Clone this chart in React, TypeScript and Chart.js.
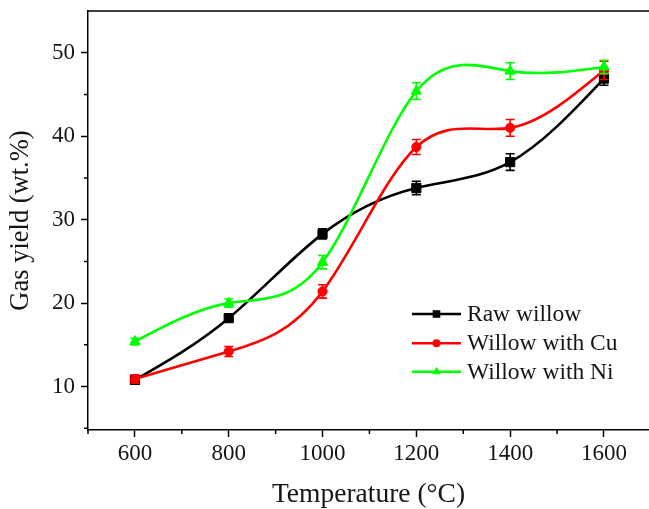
import React, { useEffect, useRef } from 'react';
import { Chart, registerables } from 'chart.js';

Chart.register(...registerables);

const temperatures = [600, 800, 1000, 1200, 1400, 1600];
const rawWillow = [10.8, 18.2, 28.3, 33.8, 36.9, 46.9];
const rawWillowErr = [0.5, 0.4, 0.6, 0.8, 1.0, 0.8];
const willowCu = [10.9, 14.2, 21.4, 38.7, 41.0, 47.9];
const willowCuErr = [0.5, 0.6, 0.8, 0.9, 1.0, 1.1];
const willowNi = [15.4, 20.0, 24.9, 45.4, 47.8, 48.3];
const willowNiErr = [0.4, 0.5, 0.8, 1.0, 1.0, 0.8];

const seriesLabels = ['Raw willow', 'Willow with Cu', 'Willow with Ni'];
const xMajorTicks = [600, 800, 1000, 1200, 1400, 1600];
const xMinorTicks = [500, 700, 900, 1100, 1300, 1500];
const yMajorTicks = [10, 20, 30, 40, 50];
const yMinorTicks = [5, 15, 25, 35, 45];

const FONT = "'Liberation Serif', 'Times New Roman', serif";
const TEXT = '#151515';

// Natural cubic spline (like Origin "Spline" connection) applied to the library's own point elements
const naturalSplinePlugin = {
  id: 'naturalSpline',
  beforeDatasetDraw(chart: any, args: any) {
    const meta = args.meta;
    const line = meta.dataset;
    if (!line) return;
    line.updateControlPoints(chart.chartArea, meta.iScale.axis);
    const pts = meta.data;
    const n = pts.length;
    if (n < 3) return;
    const xs = pts.map((p: any) => p.x);
    const ys = pts.map((p: any) => p.y);
    const h: number[] = [];
    for (let i = 0; i < n - 1; i++) h.push(xs[i + 1] - xs[i]);
    const M = new Array(n).fill(0);
    const a = new Array(n).fill(0), b = new Array(n).fill(0), c = new Array(n).fill(0), d = new Array(n).fill(0);
    for (let i = 1; i < n - 1; i++) {
      a[i] = h[i - 1];
      b[i] = 2 * (h[i - 1] + h[i]);
      c[i] = h[i];
      d[i] = 6 * ((ys[i + 1] - ys[i]) / h[i] - (ys[i] - ys[i - 1]) / h[i - 1]);
    }
    const cp = new Array(n).fill(0), dp = new Array(n).fill(0);
    for (let i = 1; i < n - 1; i++) {
      const m = b[i] - a[i] * (i > 1 ? cp[i - 1] : 0);
      cp[i] = c[i] / m;
      dp[i] = (d[i] - a[i] * (i > 1 ? dp[i - 1] : 0)) / m;
    }
    for (let i = n - 2; i >= 1; i--) {
      M[i] = dp[i] - cp[i] * (i < n - 2 ? M[i + 1] : 0);
    }
    const s: number[] = [];
    for (let i = 0; i < n; i++) {
      if (i < n - 1) s.push((ys[i + 1] - ys[i]) / h[i] - (h[i] * (2 * M[i] + M[i + 1])) / 6);
      else s.push((ys[i] - ys[i - 1]) / h[i - 1] + (h[i - 1] * (M[i - 1] + 2 * M[i])) / 6);
    }
    for (let i = 0; i < n; i++) {
      const p = pts[i];
      if (i > 0) {
        p.cp1x = xs[i] - h[i - 1] / 3;
        p.cp1y = ys[i] - (s[i] * h[i - 1]) / 3;
      } else {
        p.cp1x = xs[i];
        p.cp1y = ys[i];
      }
      if (i < n - 1) {
        p.cp2x = xs[i] + h[i] / 3;
        p.cp2y = ys[i] + (s[i] * h[i]) / 3;
      } else {
        p.cp2x = xs[i];
        p.cp2y = ys[i];
      }
    }
  },
};

const errorBarPlugin = {
  id: 'errorBars',
  afterDatasetDraw(chart: any, args: any) {
    const ds = chart.data.datasets[args.index];
    const errs: number[] = ds.errors;
    if (!errs) return;
    const y = chart.scales.y;
    const ctx = chart.ctx;
    ctx.save();
    ctx.strokeStyle = ds.borderColor;
    ctx.lineWidth = 1.6;
    args.meta.data.forEach((p: any, i: number) => {
      const v = args.meta._parsed[i].y;
      const e = errs[i];
      const yt = y.getPixelForValue(v + e);
      const yb = y.getPixelForValue(v - e);
      ctx.beginPath();
      ctx.moveTo(p.x, yt);
      ctx.lineTo(p.x, yb);
      ctx.moveTo(p.x - 4.5, yt);
      ctx.lineTo(p.x + 4.5, yt);
      ctx.moveTo(p.x - 4.5, yb);
      ctx.lineTo(p.x + 4.5, yb);
      ctx.stroke();
    });
    ctx.restore();
  },
};

const frameAndLegendPlugin = {
  id: 'frameLegend',
  afterDraw(chart: any) {
    const { ctx, chartArea, scales } = chart;
    const x = scales.x;
    const y = scales.y;
    ctx.save();
    ctx.strokeStyle = '#000';
    ctx.lineWidth = 1.5;
    ctx.beginPath();
    xMinorTicks.forEach((v) => {
      const px = x.getPixelForValue(v);
      ctx.moveTo(px, chartArea.bottom);
      ctx.lineTo(px, chartArea.bottom + 4);
    });
    yMinorTicks.forEach((v) => {
      const py = y.getPixelForValue(v);
      ctx.moveTo(chartArea.left, py);
      ctx.lineTo(chartArea.left - 4, py);
    });
    ctx.moveTo(chartArea.left - 0.75, chartArea.top);
    ctx.lineTo(chart.width, chartArea.top);
    ctx.stroke();

    const rows = [314, 343.3, 371.7];
    chart.data.datasets.forEach((ds: any, i: number) => {
      const ly = rows[i];
      ctx.strokeStyle = ds.borderColor;
      ctx.fillStyle = ds.borderColor;
      ctx.lineWidth = 2.5;
      ctx.beginPath();
      ctx.moveTo(412, ly);
      ctx.lineTo(461, ly);
      ctx.stroke();
      const cx = 436.5;
      ctx.beginPath();
      if (ds.pointStyle === 'rect') {
        ctx.rect(cx - 3.8, ly - 3.8, 7.6, 7.6);
      } else if (ds.pointStyle === 'circle') {
        ctx.arc(cx, ly, 4, 0, Math.PI * 2);
      } else {
        const r = 5;
        ctx.moveTo(cx, ly - r);
        ctx.lineTo(cx + r * 0.866, ly + r * 0.5);
        ctx.lineTo(cx - r * 0.866, ly + r * 0.5);
        ctx.closePath();
      }
      ctx.fill();
      ctx.fillStyle = TEXT;
      ctx.font = `23.5px ${FONT}`;
      ctx.textBaseline = 'middle';
      ctx.textAlign = 'left';
      ctx.fillText(ds.label, 467, ly + 1);
    });
    ctx.restore();
  },
};

const zeroPadding = (s: any) => {
  s.paddingTop = 0;
  s.paddingBottom = 0;
  s.paddingLeft = 0;
  s.paddingRight = 0;
};

export default function App() {
  const ref = useRef<HTMLCanvasElement>(null);
  useEffect(() => {
    if (!ref.current) return;
    const mk = (label: string, data: number[], errors: number[], color: string, style: string, radius: number, order: number) => ({
      label,
      data: data.map((v, i) => ({ x: temperatures[i], y: v })),
      errors,
      borderColor: color,
      backgroundColor: color,
      pointBackgroundColor: color,
      pointBorderColor: color,
      pointStyle: style,
      pointRadius: radius,
      pointBorderWidth: 1,
      borderWidth: 2.6,
      tension: 0.4,
      fill: false,
      order,
    });
    const chart = new Chart(ref.current, {
      type: 'line',
      data: {
        datasets: [
          mk(seriesLabels[0], rawWillow, rawWillowErr, '#000000', 'rect', 6.5, 3),
          mk(seriesLabels[1], willowCu, willowCuErr, '#ff0000', 'circle', 4.6, 2),
          mk(seriesLabels[2], willowNi, willowNiErr, '#00ff00', 'triangle', 6, 1),
        ] as any,
      },
      options: {
        responsive: false,
        animation: false,
        devicePixelRatio: 1,
        layout: { autoPadding: false, padding: { top: 11, right: 0, bottom: 0, left: 0 } },
        plugins: { legend: { display: false }, tooltip: { enabled: false } },
        scales: {
          x: {
            type: 'linear',
            min: 500,
            max: 1696,
            afterBuildTicks: (s: any) => {
              s.ticks = xMajorTicks.map((v) => ({ value: v }));
            },
            afterFit: (s: any) => {
              s.height = 79;
              zeroPadding(s);
            },
            grid: { display: true, drawOnChartArea: false, drawTicks: true, tickLength: 7, tickColor: '#000', tickWidth: 1.5 },
            border: { display: true, color: '#000', width: 1.5 },
            ticks: {
              color: TEXT,
              font: { family: FONT, size: 23 },
              padding: 3,
              maxRotation: 0,
              autoSkip: false,
              callback: (v: any) => String(v),
            },
            title: {
              display: true,
              text: 'Temperature (°C)',
              color: TEXT,
              font: { family: FONT, size: 27.5, lineHeight: 1.0 },
              padding: 0,
            },
          },
          y: {
            type: 'linear',
            min: 4.8,
            max: 55,
            afterBuildTicks: (s: any) => {
              s.ticks = yMajorTicks.map((v) => ({ value: v }));
            },
            afterFit: (s: any) => {
              s.width = 88;
              zeroPadding(s);
            },
            grid: { display: true, drawOnChartArea: false, drawTicks: true, tickLength: 7, tickColor: '#000', tickWidth: 1.5 },
            border: { display: true, color: '#000', width: 1.5 },
            ticks: {
              color: TEXT,
              font: { family: FONT, size: 23 },
              padding: 6,
              callback: (v: any) => String(v),
            },
            title: {
              display: true,
              text: 'Gas yield (wt.%)',
              color: TEXT,
              font: { family: FONT, size: 26.5, lineHeight: 1.2 },
              padding: { top: 5, bottom: 0 },
            },
          },
        },
      } as any,
      plugins: [naturalSplinePlugin, errorBarPlugin, frameAndLegendPlugin],
    });
    return () => chart.destroy();
  }, []);
  return (
    <div style={{ position: 'absolute', left: 0, top: 0, width: 649, height: 509, background: '#ffffff' }}>
      <canvas ref={ref} width={649} height={509} style={{ display: 'block', width: 649, height: 509 }} />
    </div>
  );
}
